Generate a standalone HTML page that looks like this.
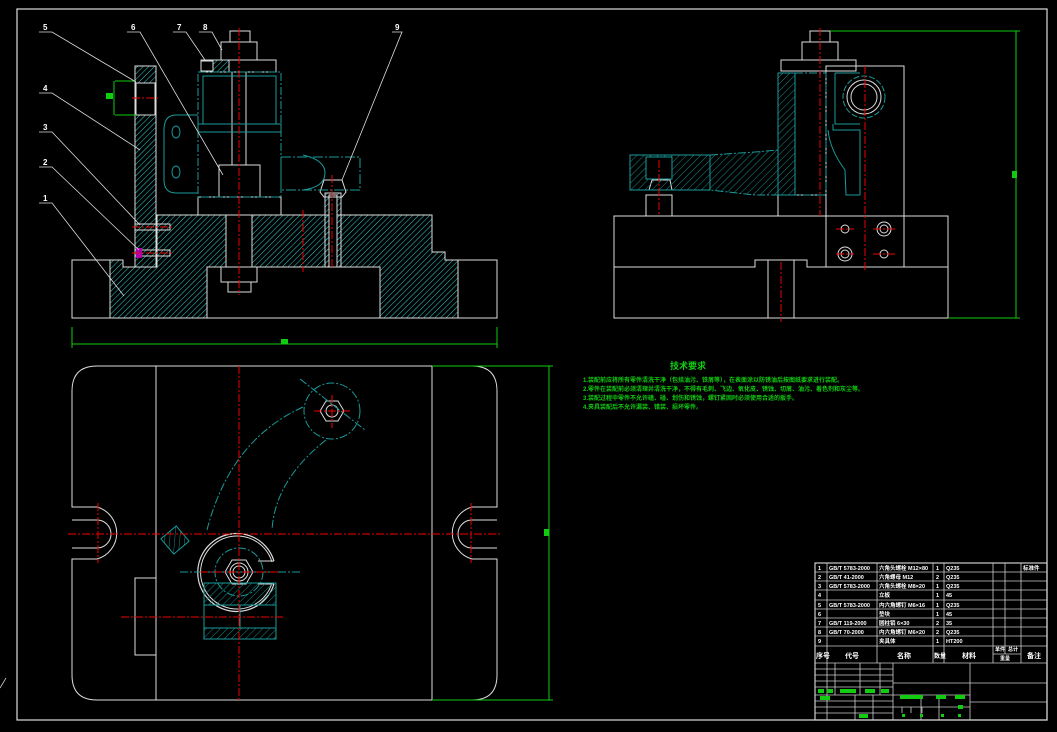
<!DOCTYPE html>
<html><head><meta charset="utf-8"><style>
html,body{margin:0;padding:0;background:#000;}
svg{display:block;}
text{font-family:"Liberation Sans","Noto Sans CJK SC",sans-serif;}
</style></head><body>
<svg width="1057" height="732" viewBox="0 0 1057 732" xmlns="http://www.w3.org/2000/svg">
<defs>
<pattern id="h" width="4" height="4" patternUnits="userSpaceOnUse" patternTransform="rotate(45)">
<line x1="0" y1="0" x2="0" y2="4" stroke="#2fd0d0" stroke-width="1"/>
</pattern>
<pattern id="h2" width="5" height="5" patternUnits="userSpaceOnUse" patternTransform="rotate(45)">
<line x1="0" y1="0" x2="0" y2="5" stroke="#168a8a" stroke-width="1"/>
</pattern>
</defs>
<rect width="1057" height="732" fill="#000"/>
<rect x="17" y="9" width="1030" height="711" fill="none" stroke="#ddd" stroke-width="1.2"/>
<g fill="none" stroke="#ddd" stroke-width="1">
<path d="M110,260 L123,260 L123,267 L157,267 L157,215 L432,215 L432,252 L445,252 L445,260 L458,260 L458,318 L380,318 L380,267 L207,267 L207,318 L110,318 Z" fill="url(#h)"/>
<rect x="72" y="260" width="38" height="58"/>
<rect x="458" y="260" width="39" height="58"/>
<line x1="72" y1="318" x2="497" y2="318"/>
<rect x="135" y="66" width="21" height="201" fill="url(#h)"/>
<rect x="136" y="83" width="19" height="32" fill="#000"/>
<rect x="226" y="215" width="26" height="52" fill="#000"/>
<rect x="221" y="267" width="36" height="15" fill="#000"/>
<rect x="228" y="282" width="23" height="10" fill="#000"/>
<rect x="198" y="197" width="83" height="18" fill="#000"/>
<rect x="219" y="165" width="41" height="32" fill="#000"/>
<rect x="230" y="31" width="20" height="11"/>
<rect x="221" y="42" width="36" height="18"/>
<rect x="201" y="60" width="75" height="12"/>
<rect x="201" y="61" width="12" height="10" stroke="#ddd"/>
<rect x="213" y="60" width="16" height="12" fill="url(#h)"/>
<line x1="232" y1="72" x2="232" y2="165"/><line x1="246" y1="72" x2="246" y2="165"/>
<rect x="325" y="193" width="16" height="22" fill="url(#h)"/>
<rect x="325" y="215" width="16" height="52" fill="url(#h)"/>
<rect x="329" y="195" width="8" height="72" fill="#000"/>
<path d="M320,192 L324,180 L342,180 L346,192 L342,197 L324,197 Z"/>
<rect x="135" y="224" width="35" height="6"/>
<rect x="135" y="250" width="35" height="6"/>
</g>
<rect x="136" y="248" width="6" height="10" fill="#b000b0"/>
<g fill="none" stroke="#1a9a9a" stroke-width="1">
<rect x="198" y="72" width="83" height="125" stroke-dasharray="8,2,2,2"/>
<rect x="203" y="76" width="73" height="48"/>
<rect x="198" y="124" width="83" height="8"/>
<path d="M198,115 L176,115 Q164,115 164,130 L164,180 Q164,193 176,193 L198,193"/>
<ellipse cx="176" cy="132" rx="4" ry="6"/><ellipse cx="176" cy="172" rx="4" ry="6"/>
<path d="M281,157 L360,157 L360,190 L281,190 Z" stroke-dasharray="10,2,2,2"/>
<path d="M303,155 Q325,160 325,173 Q325,187 303,190"/>
</g>
<g stroke="#e00" stroke-width="1" stroke-dasharray="8,2,2,2">
<line x1="239" y1="28" x2="239" y2="295"/>
<line x1="332" y1="175" x2="332" y2="267"/>
<line x1="303" y1="210" x2="303" y2="272"/>
<line x1="132" y1="98" x2="160" y2="98"/>
<line x1="132" y1="227" x2="172" y2="227"/>
<line x1="132" y1="253" x2="172" y2="253"/>
</g>
<g stroke="#1c1" stroke-width="1" fill="none">
<path d="M72,327 L72,348 M497,327 L497,348 M72,344 L497,344"/>
<path d="M115,81 L136,81 M115,115 L136,115 M114,81 L114,115"/>
</g>
<rect x="106" y="93" width="7" height="6" fill="#1c1"/>
<rect x="281" y="339" width="7" height="5" fill="#1c1"/>
<g stroke="#ddd" stroke-width="0.8" fill="none">
<path d="M39,32 L52,32 L136,82"/><path d="M39,93 L52,93 L140,150"/>
<path d="M39,132 L52,132 L140,225"/><path d="M39,167 L52,167 L139,250"/>
<path d="M39,203 L52,203 L124,296"/>
<path d="M127,32 L140,32 L223,175"/><path d="M173,32 L186,32 L205,60"/>
<path d="M199,32 L212,32 L222,50"/><path d="M392,32 L402,32 L342,180"/>
</g>
<g fill="#fff" font-size="8" font-weight="bold">
<text x="43" y="30">5</text><text x="43" y="91">4</text><text x="43" y="130">3</text>
<text x="43" y="165">2</text><text x="43" y="201">1</text><text x="131" y="30">6</text>
<text x="177" y="30">7</text><text x="203" y="30">8</text><text x="395" y="30">9</text>
</g>
<g fill="none" stroke="#ddd" stroke-width="1">
<path d="M614,216 L948,216 L948,318 L614,318 Z"/>
<path d="M614,267 L755,267 L755,260 L807,260 L807,267 L948,267"/>
<line x1="768" y1="260" x2="768" y2="318"/><line x1="794" y1="260" x2="794" y2="318"/>
<rect x="826" y="66" width="78" height="201"/>
<rect x="810" y="31" width="20" height="11"/>
<rect x="802" y="42" width="36" height="18"/>
<rect x="781" y="60" width="75" height="11"/>
<rect x="778" y="195" width="48" height="21"/>
<rect x="646" y="195" width="26" height="21"/>
<circle cx="864" cy="97" r="17"/><circle cx="864" cy="97" r="13"/>
<circle cx="845" cy="229" r="4"/><circle cx="884" cy="229" r="7"/><circle cx="884" cy="229" r="4"/>
<circle cx="845" cy="254" r="7"/><circle cx="845" cy="254" r="4"/><circle cx="884" cy="254" r="4"/>
<path d="M649,190 L652,180 L670,180 L672,190"/>
</g>
<g fill="none" stroke="#1a9a9a" stroke-width="1">
<path d="M778,73 L795,73 L795,195 L778,195 Z" fill="url(#h2)"/>
<path d="M630,155 L710,155 L710,190 L630,190 Z" fill="url(#h2)"/>
<path d="M710,155 L755,152 L778,150 L778,195 L755,195 L710,190" fill="url(#h2)" stroke-dasharray="8,2,2,2"/>
<rect x="646" y="157" width="26" height="22" fill="#000"/>
<path d="M795,73 L826,73 L826,195 L795,195" stroke-dasharray="8,2,2,2"/>
<path d="M835,73 L860,73 M835,73 L835,124 L860,124 M833,124 L833,130 L860,130 L860,195"/>
<circle cx="864" cy="97" r="21" stroke-dasharray="6,2"/>
<path d="M828,130 Q830,150 845,170 L846,195 L860,195" />
</g>
<g stroke="#e00" stroke-width="1" stroke-dasharray="8,2,2,2">
<line x1="820" y1="28" x2="820" y2="216"/>
<line x1="865" y1="66" x2="865" y2="270"/>
<line x1="659" y1="160" x2="659" y2="215"/>
<line x1="781" y1="262" x2="781" y2="322"/>
<line x1="836" y1="229" x2="854" y2="229"/><line x1="873" y1="229" x2="895" y2="229"/>
<line x1="836" y1="254" x2="854" y2="254"/><line x1="873" y1="254" x2="895" y2="254"/>
</g>
<g stroke="#1c1" stroke-width="1" fill="none">
<path d="M830,31 L1020,31 M948,318 L1020,318 M1016,31 L1016,318"/>
</g>
<rect x="1012" y="171" width="5" height="7" fill="#1c1"/>
<g fill="none" stroke="#ddd" stroke-width="1">
<path d="M97,366 L472,366 Q497,366 497,391 L497,507 L472,507 A27,27 0 0 0 472,559 L497,559 L497,675 Q497,700 472,700 L97,700 Q72,700 72,675 L72,559 L97,559 A27,27 0 0 0 97,507 L72,507 L72,391 Q72,366 97,366 Z"/>
<path d="M72,520 L97,520 A14,14 0 0 1 97,548 L72,548"/>
<path d="M497,520 L472,520 A14,14 0 0 0 472,548 L497,548"/>
<line x1="156" y1="366" x2="156" y2="700"/>
<line x1="432" y1="366" x2="432" y2="700"/>
<rect x="135" y="578" width="21" height="77"/>
<path d="M274,561 A39,39 0 1 0 274,584" stroke-width="1.2"/>
<path d="M272,562 A36.5,36.5 0 1 0 272,583" stroke-width="1"/>
<line x1="274" y1="561" x2="258" y2="561"/><line x1="274" y1="584" x2="258" y2="584"/>
<path d="M225,572 L232,560 L246,560 L253,572 L246,584 L232,584 Z"/>
<circle cx="239" cy="572" r="6"/><circle cx="239" cy="572" r="9"/>
<path d="M320,411 L326,401 L338,401 L344,411 L338,421 L326,421 Z"/>
<circle cx="332" cy="411" r="6"/>
</g>
<g fill="none" stroke="#1a9a9a" stroke-width="1" stroke-dasharray="8,2,2,2">
<circle cx="332" cy="411" r="28"/>
<path d="M303,407 Q230,440 207,530"/>
<path d="M326,440 Q275,480 272,530"/>
<circle cx="239" cy="572" r="24"/>
<line x1="180" y1="572" x2="300" y2="572"/>
<line x1="300" y1="379" x2="365" y2="430"/>
</g>
<g stroke="#1a9a9a" fill="url(#h2)">
<rect x="204" y="583" width="72" height="22"/>
<rect x="204" y="628" width="72" height="11"/>
<rect x="165" y="530" width="20" height="20" transform="rotate(-40 175 540)"/>
</g>
<g stroke="#1a9a9a" fill="none"><line x1="204" y1="605" x2="204" y2="628"/><line x1="276" y1="605" x2="276" y2="628"/><line x1="240" y1="605" x2="240" y2="628"/></g>
<g stroke="#e00" stroke-width="1" stroke-dasharray="8,2,2,2">
<line x1="68" y1="534" x2="502" y2="534"/>
<line x1="239" y1="366" x2="239" y2="702"/>
<line x1="98" y1="503" x2="98" y2="563"/><line x1="471" y1="503" x2="471" y2="563"/>
<line x1="314" y1="411" x2="350" y2="411"/><line x1="332" y1="395" x2="332" y2="428"/>
<line x1="200" y1="572" x2="280" y2="572"/>
<line x1="121" y1="617" x2="283" y2="617"/>
</g>
<g stroke="#1c1" stroke-width="1" fill="none">
<path d="M432,366 L553,366 M432,700 L553,700 M549,366 L549,700"/>
</g>
<rect x="544" y="529" width="5" height="7" fill="#1c1"/>
<g fill="#1c1" font-size="6" font-weight="bold">
<text x="670" y="369" font-size="9" font-weight="bold">技术要求</text>
<text x="583" y="382">1.装配前应将所有零件清洗干净（包括油污、铁屑等），在表面涂以防锈油后按图纸要求进行装配。</text>
<text x="583" y="391">2.零件在装配前必须清理并清洗干净，不得有毛刺、飞边、氧化皮、锈蚀、切屑、油污、着色剂和灰尘等。</text>
<text x="583" y="400">3.装配过程中零件不允许磕、碰、划伤和锈蚀，螺钉紧固时必须使用合适的扳手。</text>
<text x="583" y="409">4.夹具装配后不允许漏装、错装、损坏零件。</text>
</g>
<g fill="none" stroke="#ccc" stroke-width="0.8">
<rect x="815" y="563" width="232" height="157" stroke-width="1.2"/>
<path d="M815,572 H1047 M815,581 H1047 M815,590 H1047 M815,600 H1047 M815,609 H1047 M815,618 H1047 M815,627 H1047 M815,636 H1047 M815,646 H1047 M815,663 H1047"/>
<path d="M827,563 V663 M877,563 V663 M933,563 V663 M944,563 V663 M993,563 V663 M1005,563 V654 M1021,563 V663 M993,654 H1021"/>
<path d="M893,663 V720 M970,663 V720 M970,683 H1047 M970,702 H1047"/>
<path d="M815,669 H893 M815,675 H893 M815,681 H893 M815,687 H893 M815,695 H970 M815,701 H893 M815,707 H970 M815,713 H893"/>
<path d="M827,663 V720 M835,663 V695 M860,663 V695 M880,663 V695 M855,695 V720 M873,695 V720 M893,683 H970 M921,695 V720 M939,695 V720 M902,707 V713 M911,707 V713 M922,707 V713"/>
</g>
<g fill="#1c1">
<rect x="818" y="689" width="6" height="4"/><rect x="827" y="689" width="6" height="4"/><rect x="840" y="689" width="16" height="4"/>
<rect x="865" y="689" width="10" height="4"/><rect x="881" y="689" width="8" height="4"/><rect x="820" y="696" width="10" height="4"/>
<rect x="900" y="695" width="23" height="4"/><rect x="936" y="695" width="10" height="4"/><rect x="955" y="695" width="10" height="4"/>
<rect x="958" y="705" width="5" height="4"/><rect x="859" y="714" width="9" height="4"/>
<rect x="902" y="714" width="3" height="3"/><rect x="920" y="714" width="3" height="3"/><rect x="941" y="714" width="3" height="3"/><rect x="958" y="714" width="3" height="3"/>
</g>
<g fill="#fff" font-size="5.5" font-weight="bold">
<text x="818" y="570">1</text><text x="829" y="570">GB/T 5783-2000</text><text x="879" y="570">六角头螺栓 M12×80</text><text x="936" y="570">1</text><text x="946" y="570">Q235</text><text x="1023" y="570">标准件</text>
<text x="818" y="579">2</text><text x="829" y="579">GB/T 41-2000</text><text x="879" y="579">六角螺母 M12</text><text x="936" y="579">2</text><text x="946" y="579">Q235</text>
<text x="818" y="588">3</text><text x="829" y="588">GB/T 5783-2000</text><text x="879" y="588">六角头螺栓 M8×20</text><text x="936" y="588">1</text><text x="946" y="588">Q235</text>
<text x="818" y="597">4</text><text x="879" y="597">立板</text><text x="936" y="597">1</text><text x="946" y="597">45</text>
<text x="818" y="607">5</text><text x="829" y="607">GB/T 5783-2000</text><text x="879" y="607">内六角螺钉 M6×16</text><text x="936" y="607">1</text><text x="946" y="607">Q235</text>
<text x="818" y="616">6</text><text x="879" y="616">垫块</text><text x="936" y="616">1</text><text x="946" y="616">45</text>
<text x="818" y="625">7</text><text x="829" y="625">GB/T 119-2000</text><text x="879" y="625">圆柱销 6×30</text><text x="936" y="625">2</text><text x="946" y="625">35</text>
<text x="818" y="634">8</text><text x="829" y="634">GB/T 70-2000</text><text x="879" y="634">内六角螺钉 M6×20</text><text x="936" y="634">2</text><text x="946" y="634">Q235</text>
<text x="818" y="643">9</text><text x="879" y="643">夹具体</text><text x="936" y="643">1</text><text x="946" y="643">HT200</text>
<text x="816" y="658" font-size="7">序号</text><text x="845" y="658" font-size="7">代号</text><text x="897" y="658" font-size="7">名称</text>
<text x="934" y="658" font-size="6">数量</text><text x="962" y="658" font-size="7">材料</text><text x="995" y="651" font-size="5">单件</text><text x="1008" y="651" font-size="5">总计</text>
<text x="1000" y="660" font-size="5">重量</text><text x="1027" y="658" font-size="7">备注</text>
</g>
<line x1="0" y1="688" x2="6" y2="678" stroke="#ccc" stroke-width="0.8"/>
</svg>
</body></html>
